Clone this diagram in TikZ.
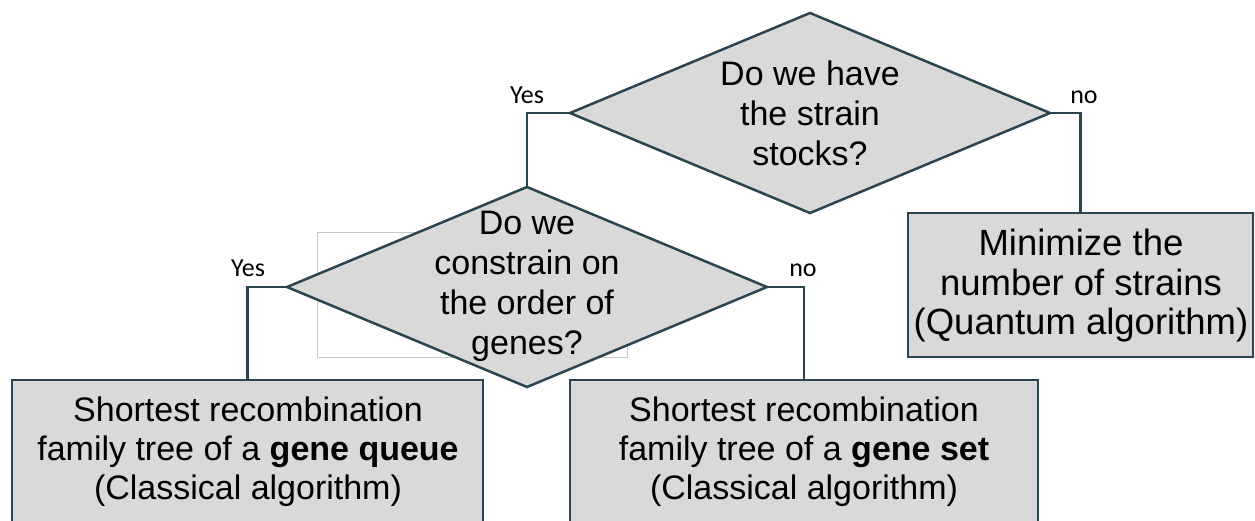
\documentclass[tikz,border=0pt]{standalone}
\usepackage{fontspec}
\setmainfont{Liberation Sans}
\newfontfamily\labelfont{Carlito}
\usetikzlibrary{shapes.geometric}
\definecolor{edgec}{RGB}{44,68,80}
\definecolor{fillc}{RGB}{217,217,217}
\definecolor{faintc}{RGB}{200,200,200}
\begin{document}
\begin{tikzpicture}[x=1pt,y=-1pt,
  decision/.style={diamond, draw=edgec, fill=fillc, line width=2.5pt,
    minimum width=480pt, minimum height=200pt, inner sep=0pt, outer sep=0pt},
  result/.style={draw=edgec, fill=fillc, line width=2.5pt, anchor=north west,
    inner sep=0pt, outer sep=0pt},
  bodytext/.style={align=center, font=\fontsize{34}{40}\selectfont, inner sep=0pt},
  branch/.style={font=\labelfont\fontsize{26}{30}\selectfont, inner sep=0pt, anchor=base},
  link/.style={draw=edgec, line width=2.5pt},
  faintframe/.style={draw=faintc, line width=1pt, fill=white, anchor=north west,
    inner sep=0pt, outer sep=0pt}]
\useasboundingbox (0,0) rectangle (1255,520);
\fill[white] (0,0) rectangle (1255,520);
\clip (0,0) rectangle (1255,520);

% faint frame behind the second decision
\node[faintframe, minimum width=310pt, minimum height=125pt] (frame) at (317,232) {};

% decisions
\node[decision] (q1) at (810,113) {};
\node[decision] (q2) at (527,287) {};

% results
\node[result, minimum width=345pt, minimum height=144pt] (r1) at (908,213) {};
\node[result, minimum width=471pt, minimum height=200pt] (r2) at (12,380) {};
\node[result, minimum width=468pt, minimum height=200pt] (r3) at (570,380) {};

% connectors
\draw[link] (q1.west) -| (q2.north);
\draw[link] (q1.east) -| (r1.north);
\draw[link] (q2.west) -| (r2.north);
\draw[link] (q2.east) -| (r3.north);

% texts
\node[bodytext] (t1) at (810,113) {Do we have\\the strain\\stocks?};
\node[bodytext] (t2) at (527,286) {Do we\\constrain on\\the order of\\genes?};
\node[bodytext, font=\fontsize{36.5}{39.5}\selectfont] (t3) at (1081,286) {Minimize the\\number of strains\\(Quantum algorithm)};
\node[bodytext, font=\fontsize{34}{39}\selectfont] (t4) at (248,452) {Shortest recombination\\family tree of a \textbf{gene queue}\\(Classical algorithm)};
\node[bodytext, font=\fontsize{34}{39}\selectfont] (t5) at (804,452) {Shortest recombination\\family tree of a \textbf{gene set}\\(Classical algorithm)};

% branch labels
\node[branch] (y1) at (527,103) {Yes};
\node[branch] (n1) at (1084,103) {no};
\node[branch] (y2) at (248,276) {Yes};
\node[branch] (n2) at (803,276) {no};
\end{tikzpicture}
\end{document}
